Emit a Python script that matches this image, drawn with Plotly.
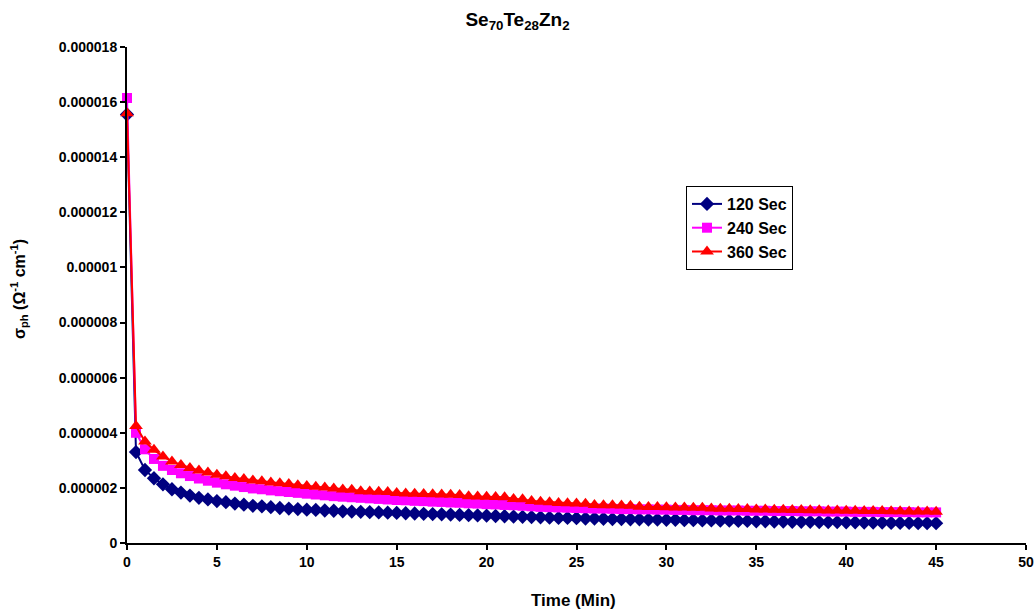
import plotly.graph_objects as go

time_min = [i * 0.5 for i in range(91)]

sec120 = [15.55, 3.30, 2.65, 2.35, 2.13, 1.95, 1.83, 1.72, 1.64, 1.58,
          1.52, 1.48, 1.43, 1.39, 1.35, 1.33, 1.30, 1.27, 1.25, 1.23,
          1.21, 1.20, 1.18, 1.17, 1.15, 1.14, 1.13, 1.12, 1.11, 1.10,
          1.09, 1.08, 1.07, 1.06, 1.05, 1.04, 1.03, 1.02, 1.01, 1.00,
          0.99, 0.98, 0.97, 0.96, 0.95, 0.94, 0.93, 0.92, 0.91, 0.91,
          0.90, 0.89, 0.89, 0.88, 0.87, 0.87, 0.86, 0.86, 0.85, 0.85,
          0.84, 0.84, 0.83, 0.83, 0.82, 0.82, 0.81, 0.81, 0.80, 0.80,
          0.79, 0.79, 0.78, 0.78, 0.77, 0.77, 0.77, 0.76, 0.76, 0.76,
          0.75, 0.75, 0.74, 0.74, 0.74, 0.73, 0.73, 0.73, 0.72, 0.72,
          0.72]

sec240 = [16.15, 4.00, 3.40, 3.05, 2.80, 2.65, 2.53, 2.43, 2.34, 2.26,
          2.19, 2.13, 2.08, 2.03, 1.98, 1.95, 1.91, 1.88, 1.85, 1.82,
          1.79, 1.76, 1.73, 1.70, 1.68, 1.66, 1.64, 1.62, 1.60, 1.58,
          1.56, 1.55, 1.53, 1.52, 1.50, 1.49, 1.47, 1.46, 1.44, 1.43,
          1.41, 1.40, 1.38, 1.37, 1.35, 1.33, 1.31, 1.30, 1.29, 1.28,
          1.27, 1.26, 1.25, 1.25, 1.24, 1.23, 1.23, 1.22, 1.22, 1.21,
          1.21, 1.20, 1.20, 1.19, 1.19, 1.19, 1.18, 1.18, 1.18, 1.17,
          1.17, 1.17, 1.16, 1.16, 1.16, 1.15, 1.15, 1.15, 1.14, 1.14,
          1.14, 1.13, 1.13, 1.13, 1.12, 1.12, 1.12, 1.12, 1.11, 1.11,
          1.11]

sec360 = [15.60, 4.25, 3.68, 3.38, 3.14, 2.96, 2.83, 2.72, 2.63, 2.56,
          2.48, 2.42, 2.36, 2.32, 2.27, 2.24, 2.20, 2.17, 2.14, 2.10,
          2.07, 2.04, 2.01, 1.98, 1.94, 1.93, 1.88, 1.87, 1.86, 1.85,
          1.81, 1.80, 1.79, 1.78, 1.77, 1.76, 1.75, 1.74, 1.70, 1.69,
          1.68, 1.67, 1.66, 1.60, 1.59, 1.52, 1.50, 1.48, 1.45, 1.44,
          1.43, 1.42, 1.38, 1.37, 1.37, 1.36, 1.35, 1.32, 1.31, 1.31,
          1.30, 1.29, 1.29, 1.28, 1.28, 1.25, 1.24, 1.24, 1.23, 1.23,
          1.22, 1.22, 1.21, 1.21, 1.20, 1.20, 1.19, 1.19, 1.18, 1.18,
          1.17, 1.17, 1.16, 1.16, 1.16, 1.15, 1.15, 1.14, 1.14, 1.14,
          1.13]

series_names = ["120 Sec", "240 Sec", "360 Sec"]
series_values = [sec120, sec240, sec360]
series_colors = ["#000080", "#FF00FF", "#FF0000"]
series_symbols = ["diamond", "square", "triangle-up"]
series_sizes = [11, 10, 12]

x_ticks = [0, 5, 10, 15, 20, 25, 30, 35, 40, 45, 50]
y_tickvals = [0, 2e-6, 4e-6, 6e-6, 8e-6, 10e-6, 12e-6, 14e-6, 16e-6, 18e-6]
y_ticktext = ["0", "0.000002", "0.000004", "0.000006", "0.000008",
              "0.00001", "0.000012", "0.000014", "0.000016", "0.000018"]

FONT = "Liberation Sans, Arial, sans-serif"

fig = go.Figure()
for name, vals, col, sym, sz in zip(series_names, series_values, series_colors,
                                     series_symbols, series_sizes):
    fig.add_trace(go.Scatter(
        x=time_min, y=[v * 1e-6 for v in vals], name="<b>%s</b>" % name,
        mode="lines+markers",
        line=dict(color=col, width=2),
        marker=dict(symbol=sym, size=sz, color=col, line=dict(width=0)),
        cliponaxis=False,
    ))

fig.update_layout(
    width=1035, height=610,
    margin=dict(l=127, r=9, t=47, b=67, autoexpand=False),
    paper_bgcolor="white", plot_bgcolor="white",
    font=dict(family=FONT, color="black"),
    title=dict(text="<b>Se<sub>70</sub>Te<sub>28</sub>Zn<sub>2</sub></b>",
               x=0.5, xref="container", xanchor="center",
               y=1 - 19 / 610, yref="container", yanchor="middle",
               font=dict(size=19, family=FONT, color="black"),
               automargin=False),
    showlegend=True,
    legend=dict(x=(686 - 127) / 899, y=(543 - 186) / 496,
                xanchor="left", yanchor="top",
                bgcolor="white", bordercolor="black", borderwidth=1,
                font=dict(size=16, family=FONT, color="black"),
                itemwidth=30, tracegroupgap=0),
    xaxis=dict(range=[0, 50], tickvals=x_ticks,
               ticktext=["<b>%d</b>" % t for t in x_ticks],
               showline=True, linecolor="black", linewidth=2,
               ticks="outside", ticklen=5, tickwidth=2, tickcolor="black",
               showgrid=False, zeroline=False, automargin=False,
               tickfont=dict(size=14, family=FONT, color="black")),
    yaxis=dict(range=[0, 18e-6], tickvals=y_tickvals,
               ticktext=["<b>%s</b>" % t for t in y_ticktext],
               showline=True, linecolor="black", linewidth=2,
               ticks="outside", ticklen=5, tickwidth=2, tickcolor="black",
               showgrid=False, zeroline=False, automargin=False,
               tickfont=dict(size=14, family=FONT, color="black")),
    annotations=[
        dict(text="<b>Time (Min)</b>", xref="paper", yref="paper",
             x=(573 - 127) / 899, y=(543 - 600) / 496,
             xanchor="center", yanchor="middle", showarrow=False,
             font=dict(size=17, family=FONT, color="black")),
        dict(text="<b>σ<sub>ph</sub> (Ω<sup>-1</sup> cm<sup>-1</sup>)</b>",
             xref="paper", yref="paper",
             x=(19 - 127) / 899, y=(543 - 289) / 496,
             xanchor="center", yanchor="middle", showarrow=False,
             textangle=-90,
             font=dict(size=16, family=FONT, color="black")),
    ],
)

fig.write_html("out.html")
